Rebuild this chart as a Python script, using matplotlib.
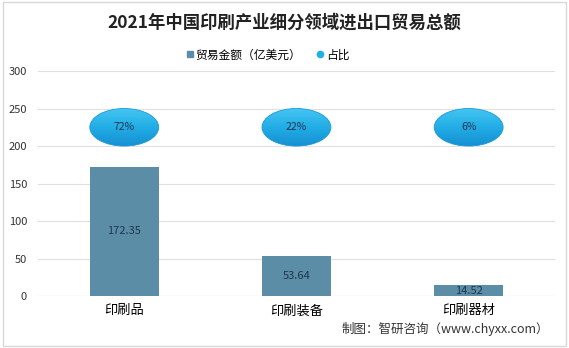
import numpy as np
import matplotlib.pyplot as plt
from matplotlib.patches import Ellipse
from matplotlib.lines import Line2D
from matplotlib.colors import LinearSegmentedColormap

plt.rcParams['font.family'] = ['Noto Sans CJK SC', 'DejaVu Sans']

categories = ["印刷品", "印刷装备", "印刷器材"]
trade_values = [172.35, 53.64, 14.52]
shares = ["72%", "22%", "6%"]
yticks = [0, 50, 100, 150, 200, 250, 300]

bar_color = "#5b8ea6"
oval_color = "#1fb0e8"
oval_cmap = LinearSegmentedColormap.from_list("oval", ["#45c6f2", "#22ade6", "#1690d2"])

fig = plt.figure(figsize=(5.69, 3.48), dpi=100)
ax = fig.add_axes([0.067, 0.149, 0.908, 0.647])

x = range(len(categories))
bars = ax.bar(x, trade_values, width=0.4, color=bar_color, zorder=2)
for b, v in zip(bars, trade_values):
    ax.text(b.get_x() + b.get_width() / 2, v / 2, f"{v:.2f}", ha="center", va="center",
            fontsize=8, color="#1f3550", zorder=3)

# share markers drawn as ovals at a fixed height, with a soft gradient
oval_y, oval_w, oval_h = 225, 0.4, 50
grad = np.linspace(0, 1, 100).reshape(-1, 1)
for xi, s in zip(x, shares):
    e = Ellipse((xi, oval_y), oval_w, oval_h, facecolor="none", edgecolor="#1a98d8",
                linewidth=0.6, zorder=4)
    ax.add_patch(e)
    im = ax.imshow(grad, cmap=oval_cmap, aspect="auto", origin="upper",
                   extent=(xi - oval_w / 2, xi + oval_w / 2, oval_y - oval_h / 2, oval_y + oval_h / 2),
                   zorder=3)
    im.set_clip_path(e)
    ax.text(xi, oval_y, s, ha="center", va="center", fontsize=7.5, color="#1f3550", zorder=5)

ax.set_xlim(-0.5, len(categories) - 0.5)
ax.set_ylim(0, 300)
ax.set_yticks(yticks)
ax.set_xticks(list(x))
ax.set_xticklabels(categories, fontsize=9.5)
ax.tick_params(axis="y", labelsize=8, length=0, pad=8, colors="#333333")
ax.tick_params(axis="x", length=0, pad=6)
ax.grid(axis="y", color="#e0e0e0", linewidth=0.8, zorder=0)
for sp in ax.spines.values():
    sp.set_visible(False)
ax.axhline(0, color="#d0d0d0", linewidth=0.8, zorder=1)

fig.text(0.5, 0.935, "2021年中国印刷产业细分领域进出口贸易总额", ha="center", va="center",
         fontsize=12.5, fontweight="bold", color="#222222")

handles = [
    Line2D([], [], marker="s", linestyle="none", markersize=4.5, color=bar_color),
    Line2D([], [], marker="o", linestyle="none", markersize=4.5, color=oval_color),
]
fig.legend(handles, ["贸易金额（亿美元）", "占比"], loc="center", bbox_to_anchor=(0.47, 0.842),
           ncol=2, frameon=False, fontsize=8.5, handlelength=0.8, handletextpad=0.1,
           columnspacing=1.2)

fig.text(0.965, 0.055, "制图：智研咨询（www.chyxx.com）", ha="right", va="center",
         fontsize=9, color="#333333")

fig.patches.append(plt.Rectangle((0.005, 0.005), 0.99, 0.99, transform=fig.transFigure,
                                 fill=False, edgecolor="#d8d8d8", linewidth=1))

fig.savefig("out.png", dpi=100)
